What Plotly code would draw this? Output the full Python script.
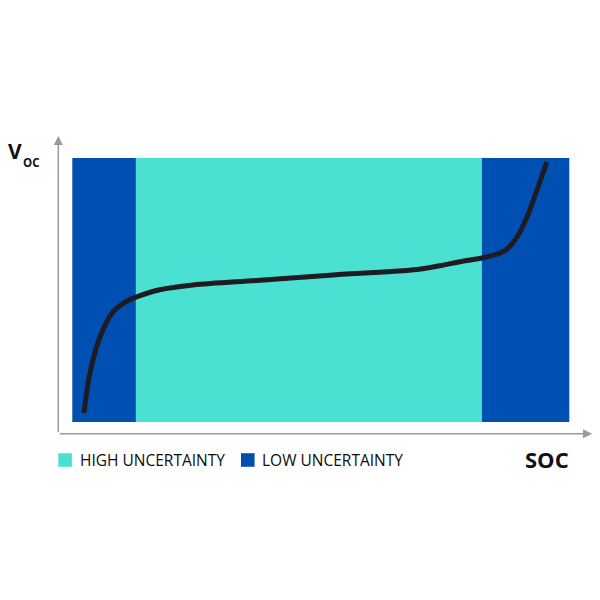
import plotly.graph_objects as go

# ---- data (SOC in % of band width, Voc in arbitrary % units) ----
soc = [2.35, 3.56, 5.57, 8.19, 11.0, 12.8, 17.6, 24.3, 37.8, 52.5,
       69.4, 74.0, 78.0, 82.4, 86.1, 87.7, 89.5, 91.5, 93.5, 95.5]
voc = [3.4, 18.6, 32.2, 41.7, 45.8, 47.3, 50.1, 51.9, 53.7, 55.7,
       57.8, 59.2, 60.7, 62.1, 64.0, 65.9, 70.1, 77.7, 87.9, 98.5]

band_names = ["LOW UNCERTAINTY", "HIGH UNCERTAINTY", "LOW UNCERTAINTY"]
band_start = [0, 12.8, 82.4]
band_end = [12.8, 82.4, 100]
band_top = 100

legend_names = ["HIGH UNCERTAINTY", "LOW UNCERTAINTY"]
x_label = "SOC"
y_label_main = "V"
y_label_sub = "OC"

colors = {"HIGH UNCERTAINTY": "#4be1d2", "LOW UNCERTAINTY": "#0050b4"}
AXIS_COLOR = "#9a9a9a"
FONT = "Open Sans"

# ---- layout helpers (window pixel -> axis / paper units) ----
OFF = 8.0  # page body margin
W = H = 600
X0_PX, X_SCALE = 72.3 - OFF, 4.97
Y0_PX, Y_SCALE = 422.0 - OFF, 2.64
def px2x(p):
    return (p - OFF - X0_PX) / X_SCALE
def py2y(p):
    return (Y0_PX - (p - OFF)) / Y_SCALE
def pyp(p):
    return 1 - (p - OFF) / H
def pxp(p):
    return (p - OFF) / W

fig = go.Figure()
fig.add_trace(go.Scatter(
    x=soc, y=voc, mode="lines",
    line=dict(color="#1f1b22", width=5, shape="spline", smoothing=1.0),
    showlegend=False, hoverinfo="skip"))

shapes = []
for name, s, e in zip(band_names, band_start, band_end):
    shapes.append(dict(type="rect", xref="x", yref="y", x0=s, x1=e, y0=0, y1=band_top,
                       fillcolor=colors[name], line=dict(width=0), layer="below"))

# legend squares
leg_sq_x = [58.3, 241]
leg_txt_x = [77.5, 260.0]
for name, sx in zip(legend_names, leg_sq_x):
    shapes.append(dict(type="rect", xref="paper", yref="paper",
                       x0=pxp(sx), x1=pxp(sx + 13.6), y0=pyp(466.8), y1=pyp(453.2),
                       fillcolor=colors[name], line=dict(width=0)))

annotations = []
# axes with arrows
axis_x_px = 58.3
axis_y_px = 433.8
annotations.append(dict(x=px2x(axis_x_px), y=py2y(136), ax=px2x(axis_x_px), ay=py2y(axis_y_px),
                        xref="x", yref="y", axref="x", ayref="y", text="", showarrow=True,
                        arrowhead=2, arrowsize=1.2, arrowwidth=1.5, arrowcolor=AXIS_COLOR))
annotations.append(dict(x=px2x(592), y=py2y(axis_y_px), ax=px2x(axis_x_px), ay=py2y(axis_y_px),
                        xref="x", yref="y", axref="x", ayref="y", text="", showarrow=True,
                        arrowhead=2, arrowsize=1.2, arrowwidth=1.5, arrowcolor=AXIS_COLOR))

for name, tx in zip(legend_names, leg_txt_x):
    annotations.append(dict(x=pxp(tx), y=pyp(460.3), xref="paper", yref="paper",
                            xanchor="left", yanchor="middle", showarrow=False, text=name,
                            font=dict(family=FONT, size=15.5, color="#0d0d0d")))

annotations.append(dict(x=pxp(571), y=pyp(459), xref="paper", yref="paper",
                        xanchor="right", yanchor="middle", showarrow=False,
                        text="<b>%s</b>" % x_label,
                        font=dict(family=FONT, size=22, color="#111111")))
annotations.append(dict(x=pxp(6), y=pyp(151), xref="paper", yref="paper",
                        xanchor="left", yanchor="middle", showarrow=False,
                        text="<b>%s</b>" % y_label_main,
                        font=dict(family=FONT, size=21, color="#111111")))
annotations.append(dict(x=pxp(20.5), y=pyp(162.5), xref="paper", yref="paper",
                        xanchor="left", yanchor="middle", showarrow=False,
                        text="<b>%s</b>" % y_label_sub,
                        font=dict(family=FONT, size=11.5, color="#111111")))

fig.update_layout(
    width=W, height=H,
    margin=dict(l=0, r=0, t=0, b=0),
    paper_bgcolor="white", plot_bgcolor="white",
    xaxis=dict(range=[px2x(OFF), px2x(OFF + W)], visible=False, fixedrange=True),
    yaxis=dict(range=[py2y(OFF + H), py2y(OFF)], visible=False, fixedrange=True),
    shapes=shapes, annotations=annotations, showlegend=False,
)

fig.write_html("out.html")
